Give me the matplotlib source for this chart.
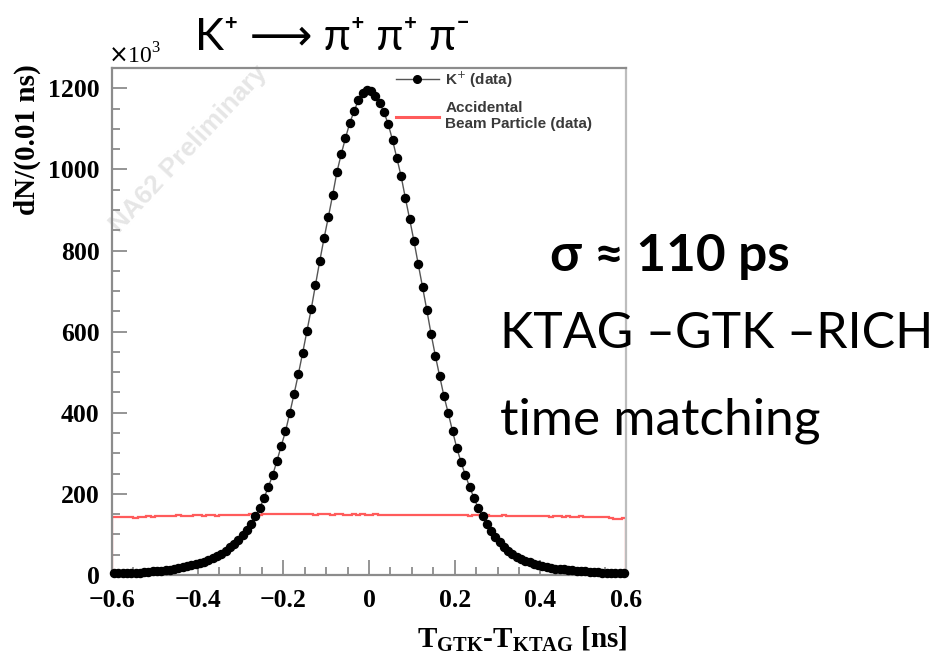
import numpy as np
import matplotlib
matplotlib.use("Agg")
import matplotlib.pyplot as plt
from matplotlib.lines import Line2D
from matplotlib.ticker import MultipleLocator

# ---- data: counts per 0.01 ns bin, in units of 10^3 ----
bin_lo, bin_hi, bin_width = -0.6, 0.6, 0.01

kaon_counts = [
    4, 4, 4, 5, 5, 6, 6, 7, 8, 9,
    10, 11, 12, 13, 15, 17, 19, 21, 24, 27,
    30, 33, 37, 42, 47, 53, 60, 68, 77, 87,
    98, 111, 126, 145, 165, 190, 217, 246, 281, 318,
    354, 399, 446, 495, 547, 601, 655, 715, 774, 830,
    882, 936, 993, 1037, 1077, 1114, 1143, 1170, 1188, 1196,
    1194, 1182, 1163, 1141, 1111, 1072, 1028, 983, 929, 877,
    823, 766, 710, 653, 594, 540, 490, 441, 399, 355,
    313, 278, 246, 217, 190, 165, 145, 126, 108, 94,
    82, 70, 60, 52, 45, 40, 35, 31, 28, 25,
    22, 20, 18, 16, 15, 14, 13, 12, 11, 10,
    9, 8, 7, 7, 6, 6, 5, 5, 5, 4,
]

accidental_counts = [
    143, 142, 142, 144, 143, 141, 142, 144, 145, 144,
    145, 146, 145, 146, 145, 147, 146, 145, 146, 147,
    147, 146, 148, 147, 146, 147, 148, 147, 149, 148,
    148, 149, 150, 151, 149, 151, 150, 151, 150, 150,
    151, 150, 151, 150, 150, 151, 150, 149, 150, 151,
    150, 149, 150, 151, 149, 149, 150, 149, 150, 149,
    149, 150, 149, 149, 149, 148, 148, 148, 148, 147,
    148, 148, 147, 147, 148, 148, 147, 147, 147, 147,
    147, 147, 147, 146, 147, 147, 146, 147, 146, 146,
    146, 147, 146, 146, 145, 146, 146, 145, 146, 145,
    145, 145, 144, 145, 145, 144, 145, 144, 144, 145,
    144, 144, 143, 143, 143, 143, 140, 139, 139, 140,
]

x_tick_values = [-0.6, -0.4, -0.2, 0.0, 0.2, 0.4, 0.6]
x_tick_labels = ["\u22120.6", "\u22120.4", "\u22120.2", "0", "0.2", "0.4", "0.6"]
y_tick_values = [0, 200, 400, 600, 800, 1000, 1200]
y_tick_labels = ["0", "200", "400", "600", "800", "1000", "1200"]

legend_labels = ["K$^{+}$ (data)", "Accidental\nBeam Particle (data)"]

# ---- figure ----
W, H = 952, 660
fig = plt.figure(figsize=(W / 100, H / 100), dpi=100)
fig.patch.set_facecolor("white")


def fx(px):
    return px / W


def fy(py):
    return 1 - py / H


ax = fig.add_axes([fx(112), fy(575), fx(626) - fx(112), fy(68) - fy(575)])

edges = np.linspace(bin_lo, bin_hi, len(kaon_counts) + 1)
centers = 0.5 * (edges[:-1] + edges[1:])

ax.stairs(accidental_counts, edges, baseline=0, color="#ff5b5b", lw=1.6, zorder=2)
ax.plot(centers, kaon_counts, color="#555555", lw=1.0, marker="o", ms=5.8,
        mfc="black", mec="black", zorder=3, clip_on=False)

ax.set_xlim(bin_lo, bin_hi)
ax.set_ylim(0, 1250)

for s in ax.spines.values():
    s.set_color("#8c8c8c")
    s.set_linewidth(1.6)
ax.spines["right"].set_color("#bdbdbd")

ax.set_xticks(x_tick_values, x_tick_labels)
ax.set_yticks(y_tick_values, y_tick_labels)
ax.xaxis.set_minor_locator(MultipleLocator(0.05))
ax.yaxis.set_minor_locator(MultipleLocator(50))
ax.tick_params(which="both", direction="in", color="#8c8c8c", width=1.3,
               top=False, right=False)
ax.tick_params(which="major", length=11)
ax.tick_params(which="minor", length=5.5)
ax.tick_params(axis="x", pad=10)
ax.tick_params(axis="y", pad=9)
for lab in ax.get_xticklabels() + ax.get_yticklabels():
    lab.set_fontfamily("Liberation Serif")
    lab.set_fontweight("bold")
    lab.set_fontsize(18.5)

# watermark
ax.text(0.15, 0.84, "NA62 Preliminary", transform=ax.transAxes, rotation=47,
        ha="center", va="center", fontsize=19, fontweight="bold",
        family="Liberation Sans", color="#e6e6e6", zorder=1)

# legend
handles = [
    Line2D([], [], color="#555555", lw=1.0, marker="o", ms=5.5, mfc="black", mec="black"),
    Line2D([], [], color="#ff5b5b", lw=2.2),
]
leg = ax.legend(handles, legend_labels, loc="upper left",
                bbox_to_anchor=(0.552, 0.997), frameon=False, borderpad=0,
                borderaxespad=0, handlelength=2.8, handletextpad=0.45,
                labelspacing=0.75,
                prop={"family": "Liberation Sans", "weight": "bold", "size": 11})
for t in leg.get_texts():
    t.set_color("#3a3a3a")

# axis titles
fig.text(fx(27), fy(64), "dN/(0.01 ns)", rotation=90, ha="center", va="top",
         family="Liberation Serif", fontweight="bold", fontsize=21)
fig.text(fx(108), fy(63), r"$\times$10$^{\mathregular{3}}$", ha="left", va="baseline",
         family="Liberation Serif", fontsize=17)
fig.text(fx(627), fy(647), r"T$_{\mathregular{GTK}}$-T$_{\mathregular{KTAG}}$ [ns]",
         ha="right", va="baseline", family="Liberation Serif",
         fontweight="bold", fontsize=21)

# annotations
sans = ["Lato", "DejaVu Sans"]
fig.text(fx(195), fy(50), "K\u207a \u27f6 \u03c0\u207a \u03c0\u207a \u03c0\u207b",
         ha="left", va="baseline", family=sans, fontsize=31.5)
fig.text(fx(550), fy(271), "\u03c3 \u2248 110 ps", ha="left", va="baseline",
         family=sans, fontsize=37, fontweight="bold")
fig.text(fx(500), fy(348), "KTAG \u2013GTK \u2013RICH", ha="left", va="baseline",
         family=sans, fontsize=36)
fig.text(fx(500), fy(435), "time matching", ha="left", va="baseline",
         family=sans, fontsize=37)

fig.savefig("out.png", dpi=100, facecolor="white")
